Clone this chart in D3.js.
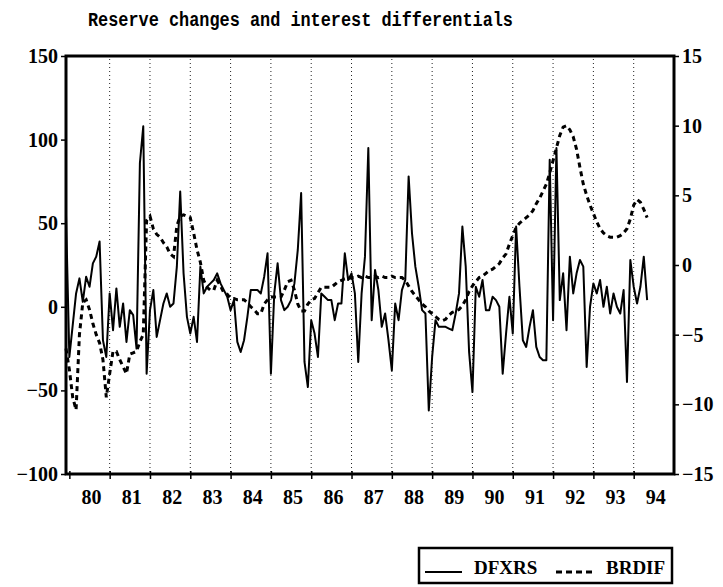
<!DOCTYPE html>
<html><head><meta charset="utf-8">
<script src="https://cdn.jsdelivr.net/npm/d3@7"></script>
<style>body{margin:0;background:#fff}</style>
</head><body>
<svg id="c" width="723" height="587"></svg>
<script>
const title = "Reserve changes and interest differentials";
const startYear = 1979, startMonth = 12;
const dfxrs = [55,-30,-11,8,17,3,18,12,26,30,39,-20,-30,8,-14,11,-12,2,-21,-2,-5,-25,86,108,-40,
-2,10,-18,-8,2,8,0,2,24,69,20,-6,-16,-6,-21,24,8,12,14,16,20,14,10,6,-2,4,-21,-27,-20,-6,10,10,10,8,18,
32,-40,8,26,4,-2,0,4,14,34,68,-33,-48,-8,-16,-30,8,6,4,4,-8,2,2,32,16,20,8,-33,8,30,
95,-8,22,10,-12,-4,-20,-38,2,-8,10,16,78,44,24,12,-2,-4,-62,-30,-8,-12,-12,-12,-13,-14,-4,8,48,24,
-27,-51,12,6,16,-2,-2,6,4,0,-40,-16,6,-16,48,12,-20,-24,-12,-2,-24,-30,-32,-32,88,-8,95,4,20,-14,
30,8,20,28,24,-36,0,14,8,16,0,12,-4,8,0,-4,10,-45,28,12,2,12,30,4];
const brdif = [-6,-7.5,-9.5,-10.4,-5,-2.7,-2.5,-3.2,-4.2,-5.0,-5.6,-6.8,-9.5,-7.8,-6.2,-6.2,-6.8,-7.3,-7.8,-6.4,
-6.3,-6.2,-5.5,-5.0,3.2,3.5,2.6,2.2,2.0,1.6,1.3,0.8,0.6,2.8,3.5,3.6,3.5,3.4,2.3,1.1,
0.2,-1.1,-1.6,-1.8,-1.8,-1.1,-1.5,-2.0,-2.1,-2.4,-2.4,-2.5,-2.5,-2.5,-2.7,-3.0,-3.2,-3.5,-3.5,-2.8,
-2.5,-2.3,-2.3,-2.3,-2.3,-1.8,-1.2,-1.1,-1.8,-2.8,-3.3,-3.3,-2.8,-2.5,-2.4,-2.0,-1.6,-1.6,-1.6,-1.6,
-1.4,-1.2,-1.1,-1.0,-1.0,-0.9,-0.9,-0.8,-0.9,-0.8,-0.9,-0.9,-0.8,-0.9,-0.8,-0.9,-0.9,-0.8,-0.9,-0.9,
-0.9,-1.1,-1.5,-1.9,-2.2,-2.5,-2.8,-3.0,-3.3,-3.5,-3.7,-3.9,-4.0,-3.9,-3.6,-3.4,-3.3,-3.2,-2.9,-2.5,
-1.9,-1.5,-1.2,-0.9,-0.8,-0.6,-0.4,-0.3,-0.1,0.1,0.5,0.8,1.5,2.1,2.7,3.0,3.2,3.4,3.6,3.9,
4.4,4.8,5.3,5.8,6.6,7.5,8.4,9.3,9.9,10.0,9.7,9.2,8.3,7.0,5.8,5.0,4.3,3.7,3.1,2.6,
2.3,2.1,2.0,2.0,2.0,2.1,2.3,2.6,3.3,4.3,4.7,4.5,4.0,3.4];
const leftTicks = [-100,-50,0,50,100,150];
const rightTicks = [-15,-10,-5,0,5,10,15];
const yearTicks = [1980,1981,1982,1983,1984,1985,1986,1987,1988,1989,1990,1991,1992,1993,1994];
const yearLabels = ["80","81","82","83","84","85","86","87","88","89","90","91","92","93","94"];
const seriesNames = ["DFXRS","BRDIF"];

const L = 66, R = 674, T = 56, B = 474;
const svg = d3.select("#c");
const tOf = k => startYear + (startMonth - 1 + k) / 12;
const x = d3.scaleLinear().domain([tOf(0), 1995.0]).range([L, R]);
const yL = d3.scaleLinear().domain([-100, 150]).range([B, T]);
const yR = d3.scaleLinear().domain([-15, 15]).range([B, T]);
const fmt = v => v < 0 ? "\u2212" + Math.abs(v) : String(v);
const numFont = "'Liberation Serif', serif";

svg.append("text").attr("x", 88).attr("y", 26)
  .attr("font-family", "'Liberation Mono', monospace").attr("font-weight", "bold")
  .attr("font-size", 20).attr("textLength", 425).attr("lengthAdjust", "spacingAndGlyphs")
  .text(title);

// dotted year grid
svg.append("g").selectAll("line").data(yearTicks.slice(1)).join("line")
  .attr("x1", d => x(d)).attr("x2", d => x(d)).attr("y1", T + 3).attr("y2", B)
  .attr("stroke", "#222").attr("stroke-width", 1).attr("stroke-dasharray", "1,3");

// lines
const lineL = d3.line().x((d, i) => x(tOf(i))).y(d => yL(d));
const lineR = d3.line().x((d, i) => x(tOf(i))).y(d => yR(d));
svg.append("path").datum(dfxrs).attr("d", lineL).attr("fill", "none")
  .attr("stroke", "#000").attr("stroke-width", 2).attr("stroke-linejoin", "round");
svg.append("path").datum(brdif).attr("d", lineR).attr("fill", "none")
  .attr("stroke", "#000").attr("stroke-width", 3).attr("stroke-dasharray", "5,4");

// frame
svg.append("rect").attr("x", L).attr("y", T).attr("width", R - L).attr("height", B - T)
  .attr("fill", "none").attr("stroke", "#000").attr("stroke-width", 3);

// left axis
const gl = svg.append("g").attr("transform", `translate(${L},0)`)
  .call(d3.axisLeft(yL).tickValues(leftTicks).tickSize(5).tickPadding(3).tickFormat(fmt));
gl.select(".domain").remove();
gl.selectAll("line").attr("stroke-width", 1.5);
gl.selectAll("text").attr("font-family", numFont).attr("font-weight", "bold").attr("font-size", 20).attr("fill", "#000");

// right axis
const gr = svg.append("g").attr("transform", `translate(${R},0)`)
  .call(d3.axisRight(yR).tickValues(rightTicks).tickSize(5).tickPadding(3).tickFormat(fmt));
gr.select(".domain").remove();
gr.selectAll("line").attr("stroke-width", 1.5);
gr.selectAll("text").attr("font-family", numFont).attr("font-weight", "bold").attr("font-size", 20).attr("fill", "#000");

// bottom axis ticks
const gb = svg.append("g").attr("transform", `translate(0,${B})`)
  .call(d3.axisBottom(x).tickValues(yearTicks).tickSize(5).tickFormat(""));
gb.select(".domain").remove();
gb.selectAll("line").attr("y1", -3).attr("stroke-width", 1.5);
svg.append("g").selectAll("text").data(yearTicks).join("text")
  .attr("x", d => x(d + 0.55)).attr("y", B + 30).attr("text-anchor", "middle")
  .attr("font-family", numFont).attr("font-weight", "bold").attr("font-size", 20)
  .text((d, i) => yearLabels[i]);

// legend
const lg = svg.append("g");
lg.append("rect").attr("x", 419).attr("y", 548).attr("width", 253).attr("height", 35)
  .attr("fill", "#fff").attr("stroke", "#000").attr("stroke-width", 2.5);
lg.append("line").attr("x1", 425).attr("x2", 462).attr("y1", 572).attr("y2", 572)
  .attr("stroke", "#000").attr("stroke-width", 2);
lg.append("text").attr("x", 474).attr("y", 574).attr("font-family", numFont).attr("font-weight", "bold")
  .attr("font-size", 19).text(seriesNames[0]);
lg.append("line").attr("x1", 556).attr("x2", 594).attr("y1", 572).attr("y2", 572)
  .attr("stroke", "#000").attr("stroke-width", 3).attr("stroke-dasharray", "6,4");
lg.append("text").attr("x", 606).attr("y", 574).attr("font-family", numFont).attr("font-weight", "bold")
  .attr("font-size", 19).text(seriesNames[1]);
</script>
</body></html>
